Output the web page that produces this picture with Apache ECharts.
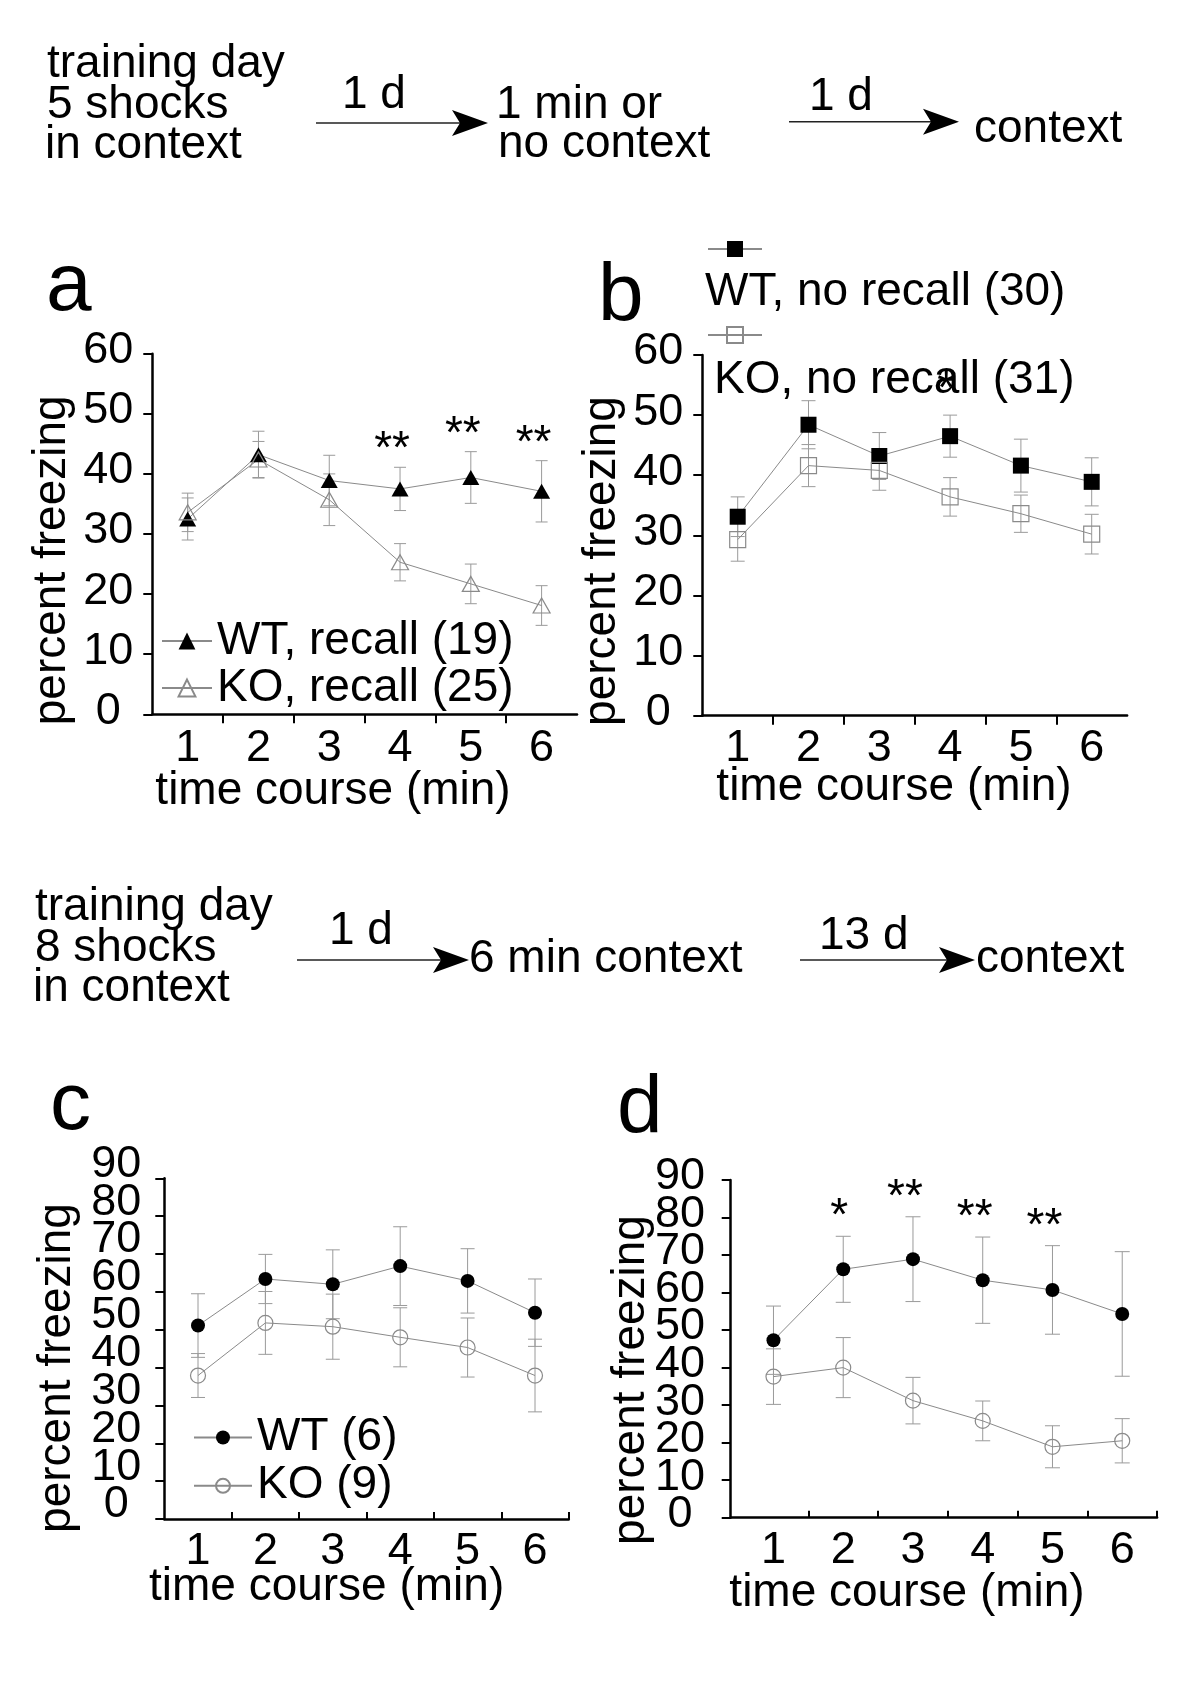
<!DOCTYPE html>
<html>
<head>
<meta charset="utf-8">
<script src="https://cdn.jsdelivr.net/npm/echarts@6/dist/echarts.min.js"></script>
<style>html,body{margin:0;padding:0;background:#fff}#chart{width:1200px;height:1688px}</style>
</head>
<body>
<div id="chart"></div>
<script>
// ---------- data ----------
const minutes = [1, 2, 3, 4, 5, 6];
const yTicksTop = [0, 10, 20, 30, 40, 50, 60];
const yTicksBottom = [0, 10, 20, 30, 40, 50, 60, 70, 80, 90];

// panel a : recall
const aNames = ['WT, recall (19)', 'KO, recall (25)'];
const aWT = [32.5, 43.2, 38.9, 37.5, 39.4, 37.1];
const aWTerr = [3.5, 3.9, 4.2, 3.6, 4.3, 5.1];
const aKO = [33.6, 42.4, 35.7, 25.3, 21.7, 18.1];
const aKOerr = [3.2, 3.0, 4.3, 3.1, 3.3, 3.3];
const aStars = ['', '', '', '**', '**', '**'];

// panel b : no recall
const bNames = ['WT, no recall (30)', 'KO, no recall (31)'];
const bWT = [33.1, 48.4, 43.2, 46.5, 41.6, 38.9];
const bWTerr = [3.3, 4.0, 3.9, 3.5, 4.4, 4.0];
const bKO = [29.3, 41.6, 40.8, 36.4, 33.6, 30.2];
const bKOerr = [3.6, 3.5, 3.3, 3.2, 3.1, 3.3];
const bStars = ['', '', '', '*', '', ''];

// panel c
const cNames = ['WT (6)', 'KO (9)'];
const cWT = [51.1, 63.4, 62.0, 66.8, 62.9, 54.5];
const cWTerr = [8.4, 6.5, 9.1, 10.4, 8.5, 8.9];
const cKO = [37.9, 51.8, 50.8, 48.0, 45.3, 37.9];
const cKOerr = [5.8, 8.3, 8.6, 7.8, 7.8, 9.6];

// panel d
const dNames = ['WT', 'KO'];
const dWT = [47.3, 66.2, 68.9, 63.3, 60.7, 54.3];
const dWTerr = [9.1, 8.8, 11.3, 11.5, 11.8, 16.6];
const dKO = [37.6, 40.0, 31.2, 25.8, 18.9, 20.5];
const dKOerr = [7.4, 8.0, 6.2, 5.3, 5.6, 5.9];
const dStars = ['', '*', '**', '**', '**', ''];

// texts
const protocolTop = { left: ['training day', '5 shocks', 'in context'], d1: '1 d', mid: ['1 min or', 'no context'], d2: '1 d', end: 'context' };
const protocolBottom = { left: ['training day', '8 shocks', 'in context'], d1: '1 d', mid: '6 min context', d2: '13 d', end: 'context' };
const yName = 'percent freezing';
const xName = 'time course (min)';

// ---------- helpers ----------
const FONT = '"Liberation Sans", Arial, Helvetica, sans-serif';
const LINE = '#8a8a8a';
const ERR = '#9a9a9a';

const pts = vals => minutes.map((m, i) => [m, vals[i]]);
const bounds = n => minutes.slice(0, n).map(m => m + 0.5);
const yEven = yTicksBottom.filter(v => v % 20 === 0);
const yOdd = yTicksBottom.filter(v => v % 20 !== 0);

function xAx(idx, min, ticks, inside, margin) {
  return {
    type: 'value', gridIndex: idx, min: min, max: 6.5,
    axisLine: { show: true, onZero: false, lineStyle: { color: '#000', width: 2.5 } },
    axisTick: { show: true, customValues: ticks, inside: inside, length: inside ? 7 : 9, lineStyle: { color: '#000', width: 2 } },
    axisLabel: { customValues: minutes, margin: margin, color: '#000', fontSize: 45, fontFamily: FONT, verticalAlign: 'middle', showMinLabel: true, showMaxLabel: true },
    splitLine: { show: false }
  };
}
function yAx(idx, max, ticks, labels, margin, lift, bare) {
  return {
    type: 'value', gridIndex: idx, position: 'left', offset: 0, min: 0, max: max, interval: 10,
    axisLine: { show: !bare, onZero: false, lineStyle: { color: '#000', width: 2.5 } },
    axisTick: { show: !bare, customValues: ticks, length: 9, lineStyle: { color: '#000', width: 2 } },
    axisLabel: {
      customValues: labels,
      margin: margin, color: '#000', fontSize: 45, fontFamily: FONT, align: 'center',
      verticalAlign: 'bottom', lineHeight: 2 * lift,
      showMinLabel: true, showMaxLabel: true, hideOverlap: false
    },
    splitLine: { show: false }
  };
}
function lineSeries(idx, name, vals, symbol, size, filled) {
  return {
    type: 'line', name: name, xAxisIndex: idx, yAxisIndex: idx, z: 3, data: pts(vals),
    symbol: symbol, symbolSize: size, showSymbol: true, silent: true,
    lineStyle: { color: LINE, width: 1 },
    itemStyle: filled ? { color: '#000', borderColor: '#000', borderWidth: 0 }
                      : { color: 'rgba(255,255,255,0)', borderColor: LINE, borderWidth: 1.2 },
    emphasis: { disabled: true }
  };
}
function errSeries(idx, vals, errs, cap) {
  return {
    type: 'custom', xAxisIndex: idx, yAxisIndex: idx, z: 1, silent: true,
    data: minutes.map((m, i) => [m, vals[i], errs[i]]),
    renderItem: function (params, api) {
      const x = api.value(0), y = api.value(1), e = api.value(2);
      const t = api.coord([x, y + e]), b = api.coord([x, y - e]);
      const h = cap / 2;
      const st = { stroke: ERR, lineWidth: 1, fill: null };
      return { type: 'group', children: [
        { type: 'line', shape: { x1: t[0], y1: t[1], x2: b[0], y2: b[1] }, style: st },
        { type: 'line', shape: { x1: t[0] - h, y1: t[1], x2: t[0] + h, y2: t[1] }, style: st },
        { type: 'line', shape: { x1: b[0] - h, y1: b[1], x2: b[0] + h, y2: b[1] }, style: st }
      ] };
    }
  };
}
function starSeries(idx, vals, errs, stars, lift) {
  const idxs = minutes.map((m, i) => i).filter(i => stars[i]);
  return {
    type: 'custom', xAxisIndex: idx, yAxisIndex: idx, z: 6, silent: true,
    data: idxs.map(i => [minutes[i], vals[i] + errs[i], i]),
    renderItem: function (params, api) {
      const s = stars[api.value(2)];
      const p = api.coord([api.value(0), api.value(1)]);
      return { type: 'text', x: p[0] - 4 * s.length, y: p[1] - lift,
        style: { text: s, font: '46px ' + FONT, fill: '#000', align: 'center', verticalAlign: 'middle' } };
    }
  };
}
function txt(s, x, y, size, opts) {
  opts = opts || {};
  return { type: 'text', x: x, y: y, rotation: opts.rot || 0, silent: true,
    style: { text: s, font: (size) + 'px ' + FONT, fill: '#000', align: opts.align || 'left', verticalAlign: 'middle' } };
}
function arrow(x1, x2, y) {
  return [
    { type: 'line', silent: true, shape: { x1: x1, y1: y, x2: x2 - 26, y2: y }, style: { stroke: '#222', lineWidth: 1.6 } },
    { type: 'polygon', silent: true, shape: { points: [[x2, y], [x2 - 36, y - 13], [x2 - 28, y], [x2 - 36, y + 13]] }, style: { fill: '#000' } }
  ];
}

const tA = bounds(5), tC = bounds(6);
const LH = 46;

const graphics = [].concat(
  // protocol 1
  txt(protocolTop.left[0], 47, 64, 46), txt(protocolTop.left[1], 47, 105.6, 46), txt(protocolTop.left[2], 45, 145.6, 46),
  txt(protocolTop.d1, 342, 95.6, 46),
  arrow(316, 488, 123),
  txt(protocolTop.mid[0], 496, 105, 46), txt(protocolTop.mid[1], 498, 144, 46),
  txt(protocolTop.d2, 809, 97, 46),
  arrow(789, 959, 121.7),
  txt(protocolTop.end, 974, 129, 46),
  // protocol 2
  txt(protocolBottom.left[0], 35, 907, 46), txt(protocolBottom.left[1], 35, 948, 46), txt(protocolBottom.left[2], 33, 988.5, 46),
  txt(protocolBottom.d1, 329, 931, 46),
  arrow(297, 469, 960),
  txt(protocolBottom.mid, 469, 959, 46),
  txt(protocolBottom.d2, 819, 936, 46),
  arrow(800, 975, 960),
  txt(protocolBottom.end, 976, 959, 46),
  // panel letters
  txt('a', 46, 287.5, 82), txt('b', 598, 297.5, 82), txt('c', 50, 1106.5, 82), txt('d', 617, 1109.5, 82),
  // axis names
  txt(yName, 52.5, 560.3, 46, { rot: Math.PI / 2, align: 'center' }),
  txt(yName, 602, 561, 46, { rot: Math.PI / 2, align: 'center' }),
  txt(yName, 57.5, 1368, 46, { rot: Math.PI / 2, align: 'center' }),
  txt(yName, 631, 1380, 46, { rot: Math.PI / 2, align: 'center' }),
  txt(xName, 333, 791.5, 46, { align: 'center' }),
  txt(xName, 894, 787.5, 46, { align: 'center' }),
  txt(xName, 326.6, 1587, 46, { align: 'center' }),
  txt(xName, 907, 1593, 46, { align: 'center' }),
  // panel b legend texts
  txt(bNames[0], 705, 292.5, 46), txt(bNames[1], 714, 380, 46)
);

const legendText = { color: '#000', fontSize: 46, fontFamily: FONT, lineHeight: LH };

const option = {
  animation: false,
  backgroundColor: '#fff',
  grid: [
    { left: 152.3, top: 353.7, width: 424.7, height: 360.6 },
    { left: 702.3, top: 355, width: 424.8, height: 360.7 },
    { left: 164.3, top: 1178.3, width: 404.4, height: 340.7 },
    { left: 730.7, top: 1180, width: 426.4, height: 337.7 }
  ],
  xAxis: [xAx(0, 0.5, tA, false, 34), xAx(1, 0.5, tA, false, 33), xAx(2, 0.5, tC, true, 32.5), xAx(3, 0.3867, tC, true, 33.3)],
  yAxis: [
    yAx(0, 60, yTicksTop, yTicksTop, 44, 3, false),
    yAx(1, 60, yTicksTop, yTicksTop, 44, 3, false),
    yAx(2, 90, yTicksBottom, yEven, 48, 14, false),
    yAx(3, 90, yTicksBottom, yEven, 50.7, 3, false),
    yAx(2, 90, yTicksBottom, yOdd, 48, 14, true),
    yAx(3, 90, yTicksBottom, yOdd, 50.7, 3, true)
  ],
  legend: [
    { data: aNames, orient: 'vertical', left: 161, top: 618, itemWidth: 50, itemHeight: 21, itemGap: 1, padding: 0, selectedMode: false, textStyle: legendText },
    { data: [bNames[0]], orient: 'vertical', left: 707, top: 239, itemWidth: 54, itemHeight: 20, padding: 0, selectedMode: false, formatter: () => '', textStyle: { fontSize: 8 } },
    { data: [bNames[1]], orient: 'vertical', left: 707, top: 325, itemWidth: 54, itemHeight: 20, padding: 0, selectedMode: false, formatter: () => '', textStyle: { fontSize: 8 } },
    { data: cNames, orient: 'vertical', left: 193, top: 1414.5, itemWidth: 58, itemHeight: 17.5, itemGap: 2.3, padding: 0, selectedMode: false, textStyle: legendText }
  ],
  series: [
    errSeries(0, aWT, aWTerr, 12), errSeries(0, aKO, aKOerr, 12),
    lineSeries(0, aNames[0], aWT, 'triangle', [17, 15], true),
    lineSeries(0, aNames[1], aKO, 'triangle', [17, 15], false),
    starSeries(0, aWT, aWTerr, aStars, 16.5),

    errSeries(1, bWT, bWTerr, 14), errSeries(1, bKO, bKOerr, 14),
    lineSeries(1, bNames[0], bWT, 'rect', 16, true),
    lineSeries(1, bNames[1], bKO, 'rect', 16, false),
    starSeries(1, bWT, bWTerr, bStars, 24.5),

    errSeries(2, cWT, cWTerr, 14), errSeries(2, cKO, cKOerr, 14),
    lineSeries(2, cNames[0], cWT, 'circle', 14, true),
    lineSeries(2, cNames[1], cKO, 'circle', 15, false),

    errSeries(3, dWT, dWTerr, 15), errSeries(3, dKO, dKOerr, 15),
    lineSeries(3, dNames[0], dWT, 'circle', 14, true),
    lineSeries(3, dNames[1], dKO, 'circle', 15, false),
    starSeries(3, dWT, dWTerr, dStars, 18.5)
  ],
  graphic: { elements: graphics }
};

const chart = echarts.init(document.getElementById('chart'), null, { renderer: 'canvas', width: 1200, height: 1688 });
chart.setOption(option);
</script>
</body>
</html>
